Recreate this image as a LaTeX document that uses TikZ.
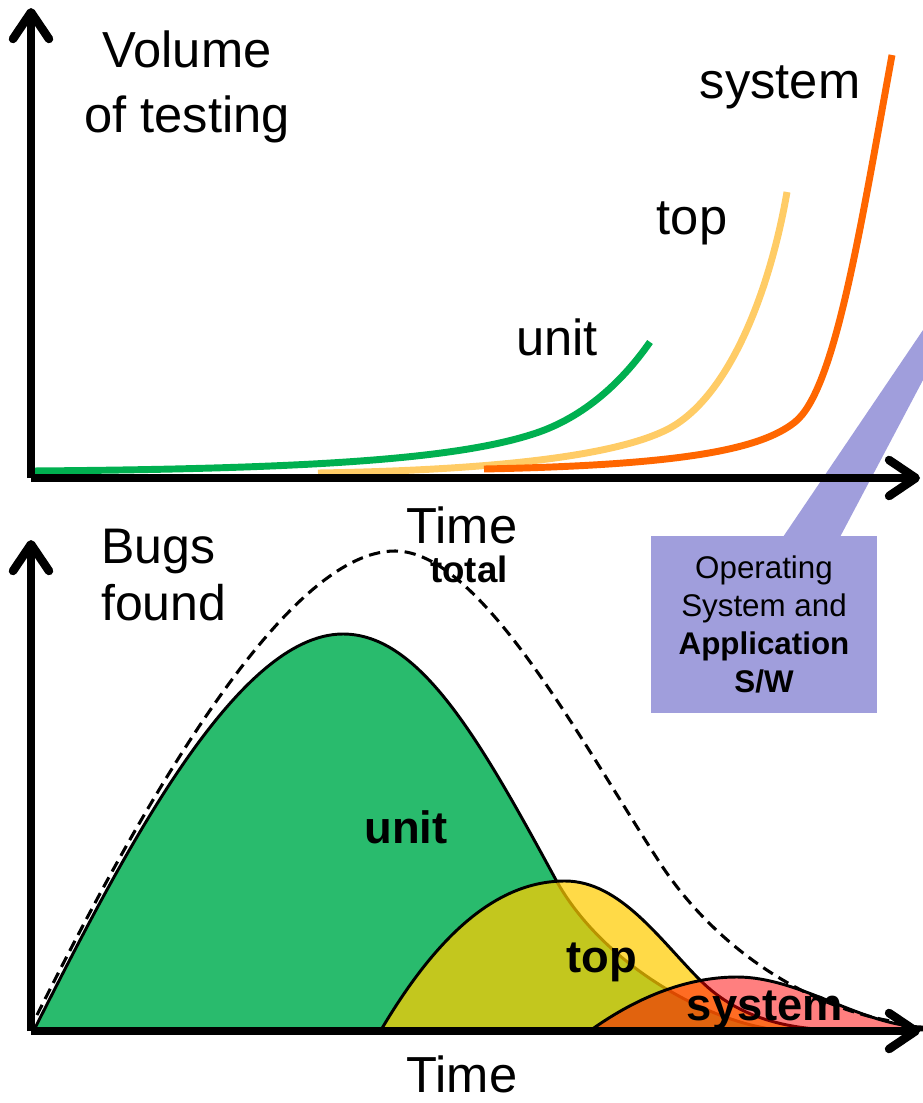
\documentclass[tikz,border=0pt]{standalone}
\usepackage{fontspec}
\setmainfont{Liberation Sans}
\usetikzlibrary{arrows.meta}

\definecolor{unitline}{HTML}{00B050}
\definecolor{topline}{HTML}{FFCC66}
\definecolor{sysline}{HTML}{FF6600}
\definecolor{unitfill}{HTML}{29BB6D}
\definecolor{topfill}{HTML}{FFCC00}
\definecolor{sysfill}{HTML}{FF0000}
\definecolor{osfill}{HTML}{A09EDC}

\tikzset{
  axis/.style={line width=6.4pt,-{Straight Barb[length=20pt,width=27pt,round]}},
  volcurve/.style={line width=5.2pt},
  bugcurve/.style={draw=black,line width=2.2pt},
  biglabel/.style={font=\fontsize{38}{48.75}\selectfont,inner sep=0pt},
  boldlabel/.style={font=\fontsize{34}{40}\selectfont\bfseries,inner sep=0pt},
}

\begin{document}
\begin{tikzpicture}[x=0.75pt,y=-0.75pt]
  \useasboundingbox (0,0) rectangle (923,1103);

  % callout box and its pointer
  \fill[osfill] (783,537) -- (923,330) -- (923,380) -- (840,537) -- cycle;
  \node[fill=osfill,minimum width=169.5pt,minimum height=133pt,align=center,
        font=\fontsize{23.5}{28.5}\selectfont] (osbox) at (764,624.5)
    {Operating\\System and\\\textbf{Application}\\\textbf{S/W}};

  % volume of testing
  \draw[volcurve,unitline] (31,471) .. controls (300,469) and (450,460) .. (530,435)
    .. controls (580,420) and (620,385) .. (650,342);
  \draw[volcurve,topline] (318,473) .. controls (500,470) and (620,455) .. (670,428)
    .. controls (730,395) and (770,290) .. (787,192);
  \draw[volcurve,sysline] (484,469) .. controls (680,465) and (760,450) .. (795,422)
    .. controls (835,390) and (860,230) .. (892,55);

  \node[biglabel,align=center,anchor=north] (vol) at (187,31) {Volume\\of testing};
  \node[biglabel,anchor=base] (unitA) at (557,355) {unit};
  \node[biglabel,anchor=base] (topA) at (692,234) {top};
  \node[biglabel,anchor=base] (sysA) at (780,98) {system};
  \node[biglabel,anchor=base] (timeA) at (462,543) {Time};

  \draw[axis] (31,478) -- (31,8);
  \draw[axis] (31,478) -- (920,478);

  % bugs found
  \draw[bugcurve,fill=unitfill] (34,1030) .. controls (120,860) and (235,634) .. (343,634)
    .. controls (420,634) and (480,740) .. (556,880)
    .. controls (600,960) and (700,1020) .. (777,1030) -- cycle;
  \draw[bugcurve,fill=topfill,fill opacity=0.72] (381,1030) .. controls (440,930) and (500,881) .. (565,881)
    .. controls (620,881) and (660,940) .. (700,980)
    .. controls (740,1020) and (790,1028) .. (830,1030) -- cycle;
  \draw[bugcurve,fill=sysfill,fill opacity=0.5] (591,1030) .. controls (640,995) and (690,977) .. (737,977)
    .. controls (800,977) and (860,1025) .. (922,1027) -- (922,1030) -- cycle;
  \draw[line width=2.3pt,dash pattern=on 8.5pt off 5pt]
    (37,1015) .. controls (130,830) and (280,551) .. (395,551)
    .. controls (480,551) and (580,740) .. (660,863)
    .. controls (720,955) and (820,1015) .. (912,1024);

  \node[biglabel,align=left,anchor=north west,font=\fontsize{37.5}{42.75}\selectfont]
    (bugs) at (101,529) {Bugs\\found};
  \node[boldlabel,anchor=base,font=\fontsize{27.5}{33}\selectfont\bfseries] (total) at (469,582) {total};
  \node[boldlabel,anchor=base] (unitB) at (406,843) {unit};
  \node[boldlabel,anchor=base] (topB) at (602,972) {top};
  \node[boldlabel,anchor=base] (sysB) at (765,1020) {system};
  \node[biglabel,anchor=base] (timeB) at (462,1092) {Time};

  \draw[axis] (31,1031) -- (31,540);
  \draw[axis] (31,1031) -- (920,1031);
\end{tikzpicture}
\end{document}
